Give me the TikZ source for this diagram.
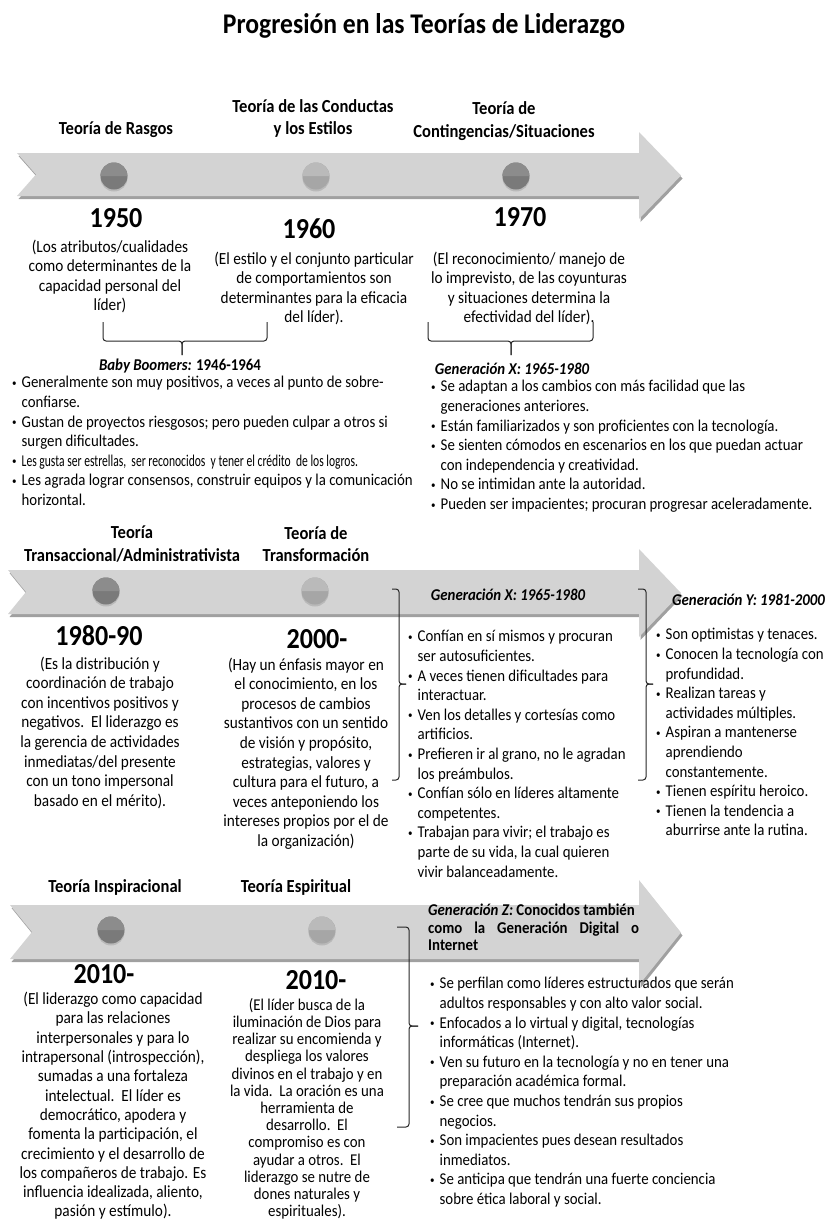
\documentclass[tikz,border=0pt]{standalone}
\usepackage{fontspec}
\setmainfont{Carlito}[FakeStretch=0.9]
\usepackage{graphicx}
\usetikzlibrary{positioning, shadows}
\definecolor{bandgray}{RGB}{211,211,211}
\definecolor{bandshade}{RGB}{160,160,160}
\definecolor{dotdark}{RGB}{122,122,122}
\definecolor{dotdarktop}{RGB}{140,140,140}
\definecolor{dotlight}{RGB}{166,166,166}
\definecolor{dotlighttop}{RGB}{186,186,186}
\newcommand{\bulletmark}{{\fontsize{10}{10}\selectfont\raisebox{1.5pt}{\textbullet}}}
\tikzset{
	band/.style={fill=bandgray},
	bandshadow/.style={fill=bandshade},
	dot/.style={circle, inner sep=0pt, minimum size=27pt, drop shadow={shadow xshift=0pt, shadow yshift=-2pt, opacity=.3}},
	darkdot/.style={dot, fill=dotdark},
	lightdot/.style={dot, fill=dotlight},
	theory/.style={font=\bfseries\fontsize{18.4}{22.5}\selectfont, align=center},
	year/.style={font=\bfseries\fontsize{29}{30}\selectfont, inner sep=0pt},
	note/.style={font=\fontsize{17}{19.6}\selectfont, align=center, anchor=north, inner sep=0pt},
	generation/.style={font=\bfseries\itshape\fontsize{16.5}{18}\selectfont, inner sep=0pt},
	traits/.style={font=\fontsize{16.5}{19.6}\selectfont, anchor=north west, inner sep=0pt},
	bracket/.style={draw=black!85, line width=1pt, rounded corners=3pt}
}

\begin{document}
\begin{tikzpicture}[x=1pt, y=-1pt]
		\useasboundingbox (0,0) rectangle (838,1224);

		% Title
		\node[font=\bfseries\fontsize{28.5}{32}\selectfont, anchor=base] (title) at (424,33) {Progresión en las Teorías de Liderazgo};

		% Timeline arrows
		\foreach \bandtop/\bandbot/\tailx/\notchx/\headtop/\headbot in {153/196/17/36/132/219, 570/614/8/26/549/637, 905/959/10/32/880/985}{
			\pgfmathsetmacro{\bandmid}{(\bandtop+\bandbot)/2}
			\pgfmathsetmacro{\headmid}{(\headtop+\headbot)/2}
			\fill[bandshadow, shift={(1.5,3)}] (\tailx,\bandtop) -- (639,\bandtop) -- (639,\headtop) -- (681,\headmid) -- (639,\headbot) -- (639,\bandbot) -- (\tailx,\bandbot) -- (\notchx,\bandmid) -- cycle;
			\fill[band] (\tailx,\bandtop) -- (639,\bandtop) -- (639,\headtop) -- (681,\headmid) -- (639,\headbot) -- (639,\bandbot) -- (\tailx,\bandbot) -- (\notchx,\bandmid) -- cycle;
		}

		% Dots on the timelines
		\foreach \name/\pos/\kind in {d1950/{114,176}/dark, d1960/{316,176}/light, d1970/{516,176}/dark, d1980/{106,591}/dark, d2000/{315,591}/light, d2010a/{111,930}/dark, d2010b/{322,930}/light}{
			\node[\kind dot] (\name) at (\pos) {};
			\fill[dot\kind top] (\name.west) arc[start angle=180, end angle=360, radius=13.5];
		}

		% First row: theories
		\node[theory] (rasgos) at (116,130) {Teoría de Rasgos};
		\node[theory] (conductas) at (313,118.5) {Teoría de las Conductas\\y los Estilos};
		\node[theory] (contingencias) at (504,121) {Teoría de\\Contingencias/Situaciones};

		\node[year] (y1950) at (116,218) {1950};
		\node[year] (y1960) at (309,229) {1960};
		\node[year] (y1970) at (520,217) {1970};

		\node[note] (n1950) at (110,239.5) {(Los atributos/cualidades\\como determinantes de la\\capacidad personal del\\líder)};
		\node[note] (n1960) at (314,251.5) {(El estilo y el conjunto particular\\de comportamientos son\\determinantes para la eficacia\\del líder).};
		\node[note] (n1970) at (529,251.5) {(El reconocimiento/ manejo de\\lo imprevisto, de las coyunturas\\y situaciones determina la\\efectividad del líder).};

		% Generations under the first row
		\node[generation] (bb) at (180,366) {Baby Boomers: \upshape 1946-1964};
		\node[generation] (gx1) at (512,369) {Generación X: 1965-1980};

		\coordinate (bb-l) at (103,322);
		\coordinate (bb-r) at (267,322);
		\coordinate (bb-mid) at (182,341);
		\coordinate (bb-tip) at (182,355);
		\draw[bracket] (bb-l) |- (bb-mid) -- (bb-tip);
		\draw[bracket] (bb-r) |- (bb-mid) -- (bb-tip);

		\coordinate (gx1-l) at (428,322);
		\coordinate (gx1-r) at (593,322);
		\coordinate (gx1-mid) at (511,341);
		\coordinate (gx1-tip) at (511,355);
		\draw[bracket] (gx1-l) |- (gx1-mid) -- (gx1-tip);
		\draw[bracket] (gx1-r) |- (gx1-mid) -- (gx1-tip);

		\node[traits] (bbtraits) at (12,374) {\begin{tabular}{@{}l@{\hspace{5pt}}l@{}}
			\bulletmark & Generalmente son muy positivos, a veces al punto de sobre-\\
			& confiarse.\\
			\bulletmark & Gustan de proyectos riesgosos; pero pueden culpar a otros si\\
			& surgen dificultades.\\
			\bulletmark & \scalebox{0.78}[1]{Les gusta ser estrellas,\ \ ser reconocidos\ \ y tener el crédito\ \ de los logros.}\\
			\bulletmark & Les agrada lograr consensos, construir equipos y la comunicación\\
			& horizontal.
		\end{tabular}};

		\node[traits] (gx1traits) at (431,378) {\begin{tabular}{@{}l@{\hspace{5pt}}l@{}}
			\bulletmark & Se adaptan a los cambios con más facilidad que las\\
			& generaciones anteriores.\\
			\bulletmark & Están familiarizados y son proficientes con la tecnología.\\
			\bulletmark & Se sienten cómodos en escenarios en los que puedan actuar\\
			& con independencia y creatividad.\\
			\bulletmark & No se intimidan ante la autoridad.\\
			\bulletmark & Pueden ser impacientes; procuran progresar aceleradamente.
		\end{tabular}};

		% Second row: theories
		\node[theory] (transaccional) at (132,544) {Teoría\\Transaccional/Administrativista};
		\node[theory] (transformacion) at (316,544) {Teoría de\\Transformación};

		\node[year] (y1980) at (99,636) {1980-90};
		\node[year] (y2000) at (317,639) {2000-};

		\node[note] (n1980) at (100,656.5) {(Es la distribución y\\coordinación de trabajo\\con incentivos positivos y\\negativos.\ \ El liderazgo es\\la gerencia de actividades\\inmediatas/del presente\\con un tono impersonal\\basado en el mérito).};
		\node[note] (n2000) at (306,657.5) {(Hay un énfasis mayor en\\el conocimiento, en los\\procesos de cambios\\sustantivos con un sentido\\de visión y propósito,\\estrategias, valores y\\cultura para el futuro, a\\veces anteponiendo los\\intereses propios por el de\\la organización)};

		% Generations beside the second row
		\node[generation] (gx2) at (508,595) {Generación X: 1965-1980};
		\node[generation, anchor=west] (gy) at (672,600) {Generación Y: 1981-2000};

		\coordinate (gx2-t) at (392,589);
		\coordinate (gx2-b) at (392,780);
		\coordinate (gx2-mid) at (399,684);
		\coordinate (gx2-tip) at (406,684);
		\draw[bracket] (gx2-t) -| (gx2-mid) -- (gx2-tip);
		\draw[bracket] (gx2-b) -| (gx2-mid) -- (gx2-tip);

		\coordinate (gy-t) at (638,589);
		\coordinate (gy-b) at (638,780);
		\coordinate (gy-mid) at (646,684);
		\coordinate (gy-tip) at (653,684);
		\draw[bracket] (gy-t) -| (gy-mid) -- (gy-tip);
		\draw[bracket] (gy-b) -| (gy-mid) -- (gy-tip);

		\node[traits] (gx2traits) at (408,628) {\begin{tabular}{@{}l@{\hspace{5pt}}l@{}}
			\bulletmark & Confían en sí mismos y procuran\\
			& ser autosuficientes.\\
			\bulletmark & A veces tienen dificultades para\\
			& interactuar.\\
			\bulletmark & Ven los detalles y cortesías como\\
			& artificios.\\
			\bulletmark & Prefieren ir al grano, no le agradan\\
			& los preámbulos.\\
			\bulletmark & Confían sólo en líderes altamente\\
			& competentes.\\
			\bulletmark & Trabajan para vivir; el trabajo es\\
			& parte de su vida, la cual quieren\\
			& vivir balanceadamente.
		\end{tabular}};

		\node[traits] (gytraits) at (656,626) {\begin{tabular}{@{}l@{\hspace{5pt}}l@{}}
			\bulletmark & Son optimistas y tenaces.\\
			\bulletmark & Conocen la tecnología con\\
			& profundidad.\\
			\bulletmark & Realizan tareas y\\
			& actividades múltiples.\\
			\bulletmark & Aspiran a mantenerse\\
			& aprendiendo\\
			& constantemente.\\
			\bulletmark & Tienen espíritu heroico.\\
			\bulletmark & Tienen la tendencia a\\
			& aburrirse ante la rutina.
		\end{tabular}};

		% Third row: theories
		\node[theory] (inspiracional) at (115,887) {Teoría Inspiracional};
		\node[theory] (espiritual) at (296,887) {Teoría Espiritual};

		\node[year] (y2010a) at (104,974) {2010-};
		\node[year] (y2010b) at (316,980) {2010-};

		\node[note, font=\fontsize{17}{19.3}\selectfont] (n2010a) at (113,992) {(El liderazgo como capacidad\\para las relaciones\\interpersonales y para lo\\intrapersonal (introspección),\\sumadas a una fortaleza\\intelectual.\ \ El líder es\\democrático, apodera y\\fomenta la participación, el\\crecimiento y el desarrollo de\\los compañeros de trabajo. Es\\influencia idealizada, aliento,\\pasión y estímulo).};
		\node[note, font=\fontsize{16.5}{17.2}\selectfont] (n2010b) at (307,998) {(El líder busca de la\\iluminación de Dios para\\realizar su encomienda y\\despliega los valores\\divinos en el trabajo y en\\la vida.\ \ La oración es una\\herramienta de\\desarrollo.\ \ El\\compromiso es con\\ayudar a otros.\ \ El\\liderazgo se nutre de\\dones naturales y\\espirituales).};

		% Generation beside the third row
		\node[anchor=north west, inner sep=0pt, align=left, font=\bfseries\fontsize{16.5}{17.5}\selectfont] (gz) at (428,904) {\textit{Generación Z:} Conocidos también\\\makebox[211pt][s]{como la Generación Digital o}\\Internet};

		\coordinate (gz-t) at (397,927);
		\coordinate (gz-b) at (397,1127);
		\coordinate (gz-mid) at (409,1026);
		\coordinate (gz-tip) at (418,1026);
		\draw[bracket] (gz-t) -| (gz-mid) -- (gz-tip);
		\draw[bracket] (gz-b) -| (gz-mid) -- (gz-tip);

		\node[traits] (gztraits) at (430,975) {\begin{tabular}{@{}l@{\hspace{5pt}}l@{}}
			\bulletmark & Se perfilan como líderes estructurados que serán\\
			& adultos responsables y con alto valor social.\\
			\bulletmark & Enfocados a lo virtual y digital, tecnologías\\
			& informáticas (Internet).\\
			\bulletmark & Ven su futuro en la tecnología y no en tener una\\
			& preparación académica formal.\\
			\bulletmark & Se cree que muchos tendrán sus propios\\
			& negocios.\\
			\bulletmark & Son impacientes pues desean resultados\\
			& inmediatos.\\
			\bulletmark & Se anticipa que tendrán una fuerte conciencia\\
			& sobre ética laboral y social.
		\end{tabular}};
	\end{tikzpicture}
\end{document}
